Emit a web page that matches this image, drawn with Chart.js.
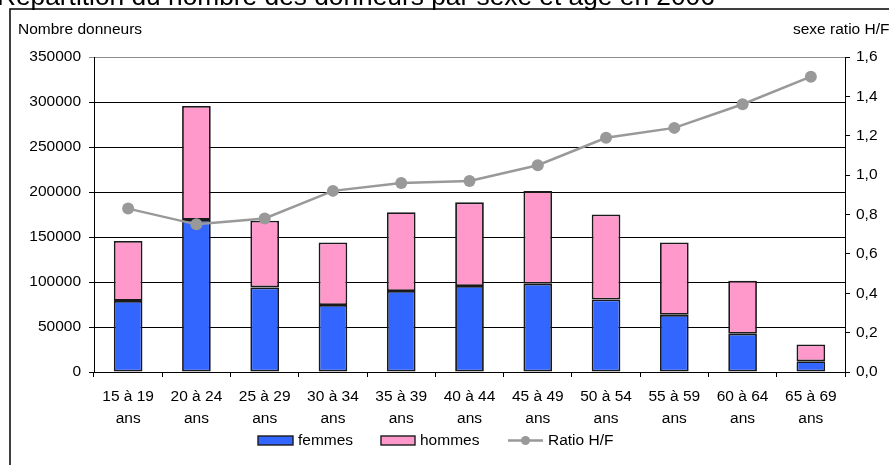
<!DOCTYPE html>
<html>
<head>
<meta charset="utf-8">
<script src="https://cdn.jsdelivr.net/npm/chart.js@4.4.0/dist/chart.umd.min.js"></script>
<style>
  html, body { margin: 0; padding: 0; background: #fff; overflow: hidden; }
  #wrap { position: relative; width: 889px; height: 465px; }
  canvas { display: block; }
</style>
</head>
<body>
<div id="wrap"><canvas id="c" width="889" height="465"></canvas></div>
<script>
// ---- data ----
const categories = [
  ["15 à 19", "ans"], ["20 à 24", "ans"], ["25 à 29", "ans"], ["30 à 34", "ans"],
  ["35 à 39", "ans"], ["40 à 44", "ans"], ["45 à 49", "ans"], ["50 à 54", "ans"],
  ["55 à 59", "ans"], ["60 à 64", "ans"], ["65 à 69", "ans"]
];
const femmes = [79000, 169000, 94000, 74500, 90000, 95500, 98000, 80500, 63500, 42500, 12000];
const hommes = [66500, 126500, 74000, 69500, 87500, 93000, 103000, 94500, 80500, 59000, 18500];
const ratioHF = [0.83, 0.75, 0.78, 0.92, 0.96, 0.97, 1.05, 1.19, 1.24, 1.36, 1.50];
const titleText = "Répartition du nombre des donneurs par sexe et âge en 2006";
const leftAxisTitle = "Nombre donneurs";
const rightAxisTitle = "sexe ratio H/F";
const seriesNames = ["femmes", "hommes", "Ratio H/F"];

const FONT = '"Liberation Sans", Arial, Helvetica, sans-serif';
const FS = 15.5;
const BLUE = '#3366FF', PINK = '#FF99CC', GREY = '#999999', EDGE = '#1a1a1a';

Chart.defaults.font.family = FONT;
Chart.defaults.font.size = FS;
Chart.defaults.color = '#000';

const decorPlugin = {
  id: 'decor',
  beforeDraw(chart) {
    const ctx = chart.ctx;
    ctx.save();
    ctx.fillStyle = '#fff';
    ctx.fillRect(0, 0, chart.width, chart.height);
    ctx.restore();
  },
  afterDraw(chart) {
    const ctx = chart.ctx;
    ctx.save();
    // outer frame
    ctx.strokeStyle = '#000';
    ctx.lineWidth = 1.5;
    ctx.beginPath();
    ctx.moveTo(10, chart.height + 5);
    ctx.lineTo(10, 9);
    ctx.lineTo(chart.width + 5, 9);
    ctx.stroke();
    // title (cut at top)
    ctx.fillStyle = '#000';
    ctx.font = '26.3px ' + FONT;
    ctx.textBaseline = 'alphabetic';
    ctx.textAlign = 'left';
    ctx.fillText(titleText, -3, 4.5);
    // axis titles
    ctx.font = FS + 'px ' + FONT;
    ctx.textBaseline = 'middle';
    ctx.fillText(leftAxisTitle, 18, 30);
    ctx.fillText(rightAxisTitle, 793, 30);
    // legend
    const ly = 440.5;
    ctx.lineWidth = 1.4;
    ctx.strokeStyle = EDGE;
    ctx.fillStyle = BLUE;
    ctx.fillRect(258, 436, 35, 9); ctx.strokeRect(258, 436, 35, 9);
    ctx.fillStyle = PINK;
    ctx.fillRect(381, 436, 34, 9); ctx.strokeRect(381, 436, 34, 9);
    ctx.strokeStyle = GREY; ctx.lineWidth = 2.5;
    ctx.beginPath(); ctx.moveTo(508, ly); ctx.lineTo(543, ly); ctx.stroke();
    ctx.fillStyle = GREY;
    ctx.beginPath(); ctx.arc(525.5, ly, 4.5, 0, Math.PI * 2); ctx.fill();
    ctx.fillStyle = '#000';
    ctx.fillText(seriesNames[0], 298, ly);
    ctx.fillText(seriesNames[1], 420, ly);
    ctx.fillText(seriesNames[2], 548, ly);
    ctx.restore();
  }
};

new Chart(document.getElementById('c'), {
  data: {
    labels: categories,
    datasets: [
      {
        type: 'line', label: seriesNames[2], data: ratioHF, yAxisID: 'y1', order: 0,
        borderColor: GREY, borderWidth: 2.5, pointRadius: 6, pointHoverRadius: 6,
        pointBackgroundColor: GREY, pointBorderWidth: 0, tension: 0, fill: false
      },
      {
        type: 'bar', label: seriesNames[0], data: femmes, yAxisID: 'y', order: 1,
        backgroundColor: BLUE, borderColor: EDGE, borderWidth: 1.8, borderSkipped: false,
        barPercentage: 0.42, categoryPercentage: 1
      },
      {
        type: 'bar', label: seriesNames[1], data: hommes, yAxisID: 'y', order: 1,
        backgroundColor: PINK, borderColor: EDGE, borderWidth: 1.8, borderSkipped: false,
        barPercentage: 0.42, categoryPercentage: 1
      }
    ]
  },
  options: {
    responsive: false,
    animation: false,
    devicePixelRatio: 1,
    layout: { padding: { left: 0, right: 0, top: 57, bottom: 0 } },
    plugins: { legend: { display: false }, title: { display: false }, tooltip: { enabled: false } },
    scales: {
      x: {
        stacked: true,
        offset: true,
        grid: { display: true, offset: true, drawOnChartArea: false, color: '#000', tickLength: 5, lineWidth: 1 },
        border: { display: true, color: '#000', width: 1 },
        ticks: { color: '#000', padding: 9, maxRotation: 0, autoSkip: false, font: { size: FS, lineHeight: 1.4 } },
        afterFit(s) { s.height = 93; }
      },
      y: {
        stacked: true, position: 'left', min: 0, max: 350000,
        grid: {
          color: (c) => (c.tick && c.tick.value === 350000) ? '#8c8c8c' : '#000',
          lineWidth: 1, tickLength: 5, drawTicks: true
        },
        border: { display: true, color: '#000', width: 1 },
        ticks: { stepSize: 50000, padding: 8, color: '#000', callback: (v) => String(v) },
        afterFit(s) { s.width = 94; }
      },
      y1: {
        position: 'right', min: 0, max: 1.6,
        grid: { drawOnChartArea: false, color: '#000', tickLength: 5 },
        border: { display: true, color: '#000', width: 1 },
        ticks: { stepSize: 0.2, padding: 6, color: '#000', callback: (v) => v.toFixed(1).replace('.', ',') },
        afterFit(s) { s.width = 44; }
      }
    }
  },
  plugins: [decorPlugin]
});
</script>
</body>
</html>
